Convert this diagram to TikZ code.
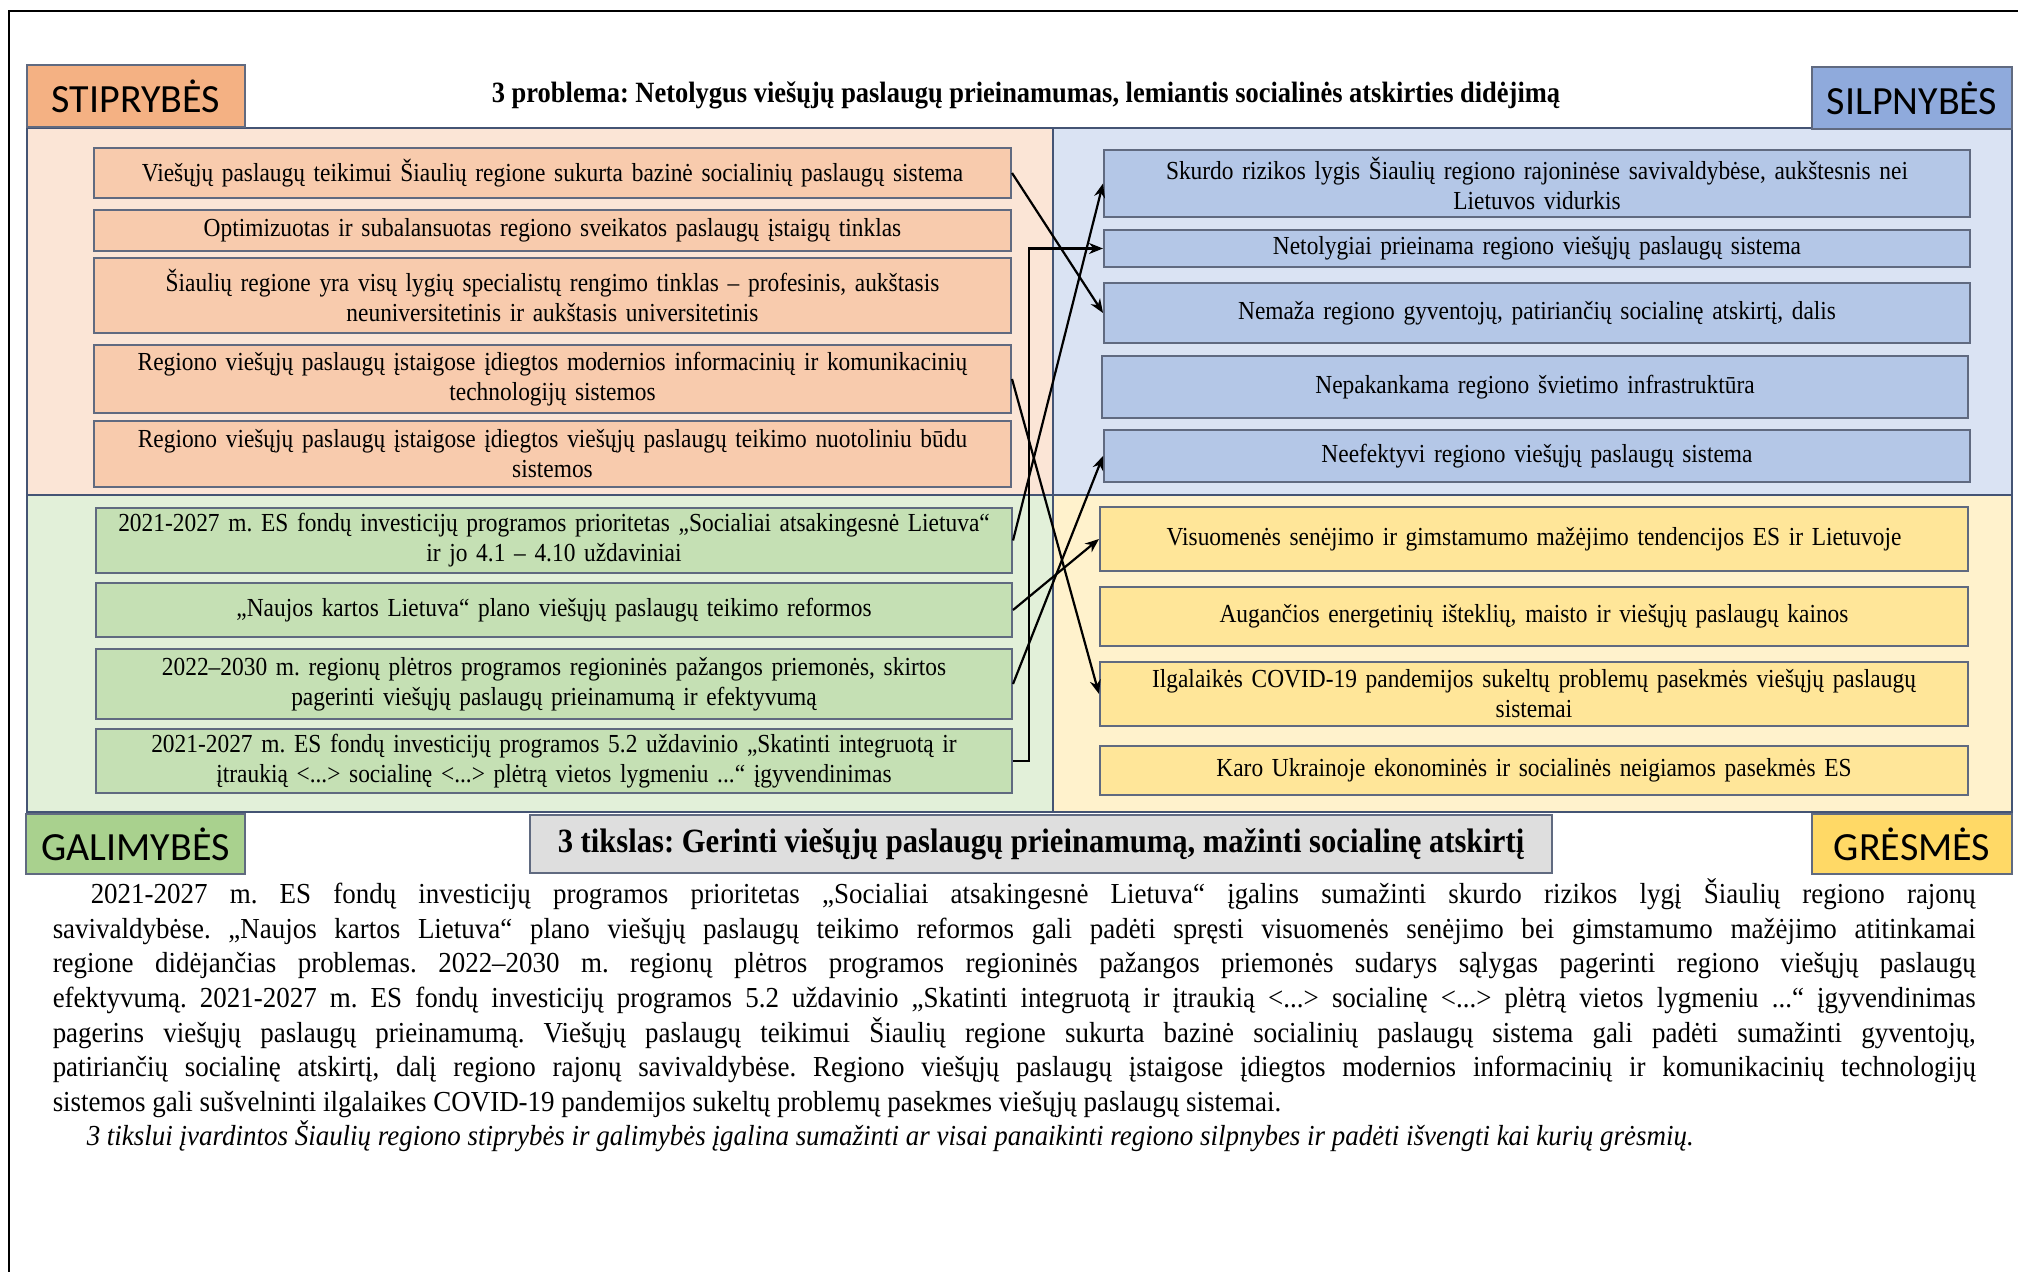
\documentclass[tikz,border=0pt]{standalone}
\usepackage{fontspec}
\setmainfont{Liberation Serif}
\newfontfamily\boxfont[FakeStretch=0.9]{Liberation Serif}
\newfontfamily\bodyfont[FakeStretch=0.93]{Liberation Serif}
\newfontfamily\labelfont{Carlito}
\usetikzlibrary{arrows.meta}

\tikzset{every picture/.style={line width=0.75pt}}
\tikzset{
  boxline/.style={draw={rgb, 255:red, 96; green, 106; blue, 128 }, line width=1pt},
  panel/.style={draw={rgb, 255:red, 68; green, 84; blue, 116 }, line width=1pt},
  itembox/.style={boxline, inner sep=0pt, align=center, font=\boxfont\fontsize{13}{15}\selectfont},
  sbox/.style={itembox, fill={rgb, 255:red, 248; green, 203; blue, 173 }, minimum width=458.5pt, text width=450pt},
  obox/.style={itembox, fill={rgb, 255:red, 197; green, 224; blue, 180 }, minimum width=458pt, text width=450pt},
  wbox/.style={itembox, fill={rgb, 255:red, 180; green, 199; blue, 231 }, minimum width=433pt, text width=425pt},
  tbox/.style={itembox, fill={rgb, 255:red, 255; green, 230; blue, 153 }, minimum width=434pt, text width=425pt},
  swotlabel/.style={boxline, inner sep=0pt, minimum height=31pt, font=\labelfont\fontsize{20}{24}\selectfont},
  arr/.style={-{Stealth[length=7pt,width=5.5pt]}, line width=1.1pt}
}

\begin{document}
\frenchspacing
\begin{tikzpicture}[x=0.5pt,y=0.5pt,yscale=-1]
\useasboundingbox (0,0) rectangle (2018,1272);
\draw [line width=1pt] (9,1272) -- (9,11) -- (2018,11) ;

% quadrants
\draw [panel, fill={rgb, 255:red, 251; green, 229; blue, 214 }] (27,128) rectangle (1053,495) ;
\draw [panel, fill={rgb, 255:red, 218; green, 227; blue, 243 }] (1053,128) rectangle (2012,495) ;
\draw [panel, fill={rgb, 255:red, 226; green, 240; blue, 217 }] (27,495) rectangle (1053,812) ;
\draw [panel, fill={rgb, 255:red, 255; green, 242; blue, 204 }] (1053,495) rectangle (2012,812) ;

% corner labels
\draw (136,96.5) node [swotlabel, fill={rgb, 255:red, 244; green, 177; blue, 131 }, minimum width=109pt] (lS) {STIPRYBĖS};
\draw (1912,98) node [swotlabel, fill={rgb, 255:red, 143; green, 170; blue, 220 }, minimum width=100pt] (lW) {SILPNYBĖS};
\draw (135.5,844) node [swotlabel, fill={rgb, 255:red, 169; green, 209; blue, 142 }, minimum width=109.5pt, minimum height=30pt] (lO) {GALIMYBĖS};
\draw (1912,844) node [swotlabel, fill={rgb, 255:red, 255; green, 217; blue, 102 }, minimum width=100pt, minimum height=30pt] (lT) {GRĖSMĖS};

\draw (1026,95) node [font=\boxfont\bfseries\fontsize{14.7}{17}\selectfont] (problem) {3 problema: Netolygus viešųjų paslaugų prieinamumas, lemiantis socialinės atskirties didėjimą};
\draw (1041,844) node [boxline, fill={rgb, 255:red, 222; green, 222; blue, 222 }, minimum width=511pt, minimum height=29pt, inner sep=0pt, font=\boxfont\bfseries\fontsize{17}{20}\selectfont] (goal) {3 tikslas: Gerinti viešųjų paslaugų prieinamumą, mažinti socialinę atskirtį};

% strengths
\draw (552.5,173) node [sbox, minimum height=25pt] (s1) {Viešųjų paslaugų teikimui Šiaulių regione sukurta bazinė socialinių paslaugų sistema};
\draw (552.5,230.5) node [sbox, minimum height=20.5pt] (s2) {Optimizuotas ir subalansuotas regiono sveikatos paslaugų įstaigų tinklas};
\draw (552.5,295.5) node [sbox, minimum height=37.5pt] (s3) {Šiaulių regione yra visų lygių specialistų rengimo tinklas – profesinis, aukštasis\\ neuniversitetinis ir aukštasis universitetinis};
\draw (552.5,379) node [sbox, minimum height=34pt] (s4) {Regiono viešųjų paslaugų įstaigose įdiegtos modernios informacinių ir komunikacinių\\ technologijų sistemos};
\draw (552.5,454) node [sbox, minimum height=33pt] (s5) {Regiono viešųjų paslaugų įstaigose įdiegtos viešųjų paslaugų teikimo nuotoliniu būdu\\ sistemos};

% opportunities
\draw (554,540.5) node [obox, minimum height=32.5pt] (o1) {2021-2027 m. ES fondų investicijų programos prioritetas „Socialiai atsakingesnė Lietuva“\\ ir jo 4.1 – 4.10 uždaviniai};
\draw (554,610) node [obox, minimum height=27pt] (o2) {„Naujos kartos Lietuva“ plano viešųjų paslaugų teikimo reformos};
\draw (554,684) node [obox, minimum height=35pt] (o3) {2022–2030 m. regionų plėtros programos regioninės pažangos priemonės, skirtos\\ pagerinti viešųjų paslaugų prieinamumą ir efektyvumą};
\draw (554,761) node [obox, minimum height=32pt] (o4) {2021-2027 m. ES fondų investicijų programos 5.2 uždavinio „Skatinti integruotą ir\\ įtraukią <...> socialinę <...> plėtrą vietos lygmeniu ...“ įgyvendinimas};

% weaknesses
\draw (1537,183.5) node [wbox, minimum height=33.5pt] (w1) {Skurdo rizikos lygis Šiaulių regiono rajoninėse savivaldybėse, aukštesnis nei\\ Lietuvos vidurkis};
\draw (1537,248.5) node [wbox, minimum height=18.5pt] (w2) {Netolygiai prieinama regiono viešųjų paslaugų sistema};
\draw (1537,313) node [wbox, minimum height=30pt] (w3) {Nemaža regiono gyventojų, patiriančių socialinę atskirtį, dalis};
\draw (1535,387) node [wbox, minimum height=31pt] (w4) {Nepakankama regiono švietimo infrastruktūra};
\draw (1537,456) node [wbox, minimum height=26pt] (w5) {Neefektyvi regiono viešųjų paslaugų sistema};

% threats
\draw (1534,539) node [tbox, minimum height=32pt] (t1) {Visuomenės senėjimo ir gimstamumo mažėjimo tendencijos ES ir Lietuvoje};
\draw (1534,616.5) node [tbox, minimum height=29.5pt] (t2) {Augančios energetinių išteklių, maisto ir viešųjų paslaugų kainos};
\draw (1534,694) node [tbox, minimum height=32pt] (t3) {Ilgalaikės COVID-19 pandemijos sukeltų problemų pasekmės viešųjų paslaugų\\ sistemai};
\draw (1534,770.5) node [tbox, minimum height=24.5pt] (t4) {Karo Ukrainoje ekonominės ir socialinės neigiamos pasekmės ES};

% links
\draw [arr] (s1.east) -- (w3.west) ;
\draw [arr] (o4.east) -- ++(8pt,0) |- (w2.west) ;
\draw [arr] (o1.east) -- (w1.west) ;
\draw [arr] (s4.east) -- (t3.west) ;
\draw [arr] (o3.east) -- (w5.west) ;
\draw [arr] (o2.east) -- (t1.west) ;

% text under the figure
\draw (52,878) node [anchor=north west, inner sep=0pt] (body) {\parbox{961.5pt}{\bodyfont\fontsize{14.5}{17.3}\selectfont
\hspace*{19pt}2021-2027 m. ES fondų investicijų programos prioritetas „Socialiai atsakingesnė Lietuva“ įgalins sumažinti skurdo rizikos lygį Šiaulių regiono rajonų\linebreak
savivaldybėse. „Naujos kartos Lietuva“ plano viešųjų paslaugų teikimo reformos gali padėti spręsti visuomenės senėjimo bei gimstamumo mažėjimo atitinkamai\linebreak
regione didėjančias problemas. 2022–2030 m. regionų plėtros programos regioninės pažangos priemonės sudarys sąlygas pagerinti regiono viešųjų paslaugų\linebreak
efektyvumą. 2021-2027 m. ES fondų investicijų programos 5.2 uždavinio „Skatinti integruotą ir įtraukią <...> socialinę <...> plėtrą vietos lygmeniu ...“ įgyvendinimas\linebreak
pagerins viešųjų paslaugų prieinamumą. Viešųjų paslaugų teikimui Šiaulių regione sukurta bazinė socialinių paslaugų sistema gali padėti sumažinti gyventojų,\linebreak
patiriančių socialinę atskirtį, dalį regiono rajonų savivaldybėse. Regiono viešųjų paslaugų įstaigose įdiegtos modernios informacinių ir komunikacinių technologijų\linebreak
sistemos gali sušvelninti ilgalaikes COVID-19 pandemijos sukeltų problemų pasekmes viešųjų paslaugų sistemai.\par
\hspace*{17pt}\textit{3 tikslui įvardintos Šiaulių regiono stiprybės ir galimybės įgalina sumažinti ar visai panaikinti regiono silpnybes ir padėti išvengti kai kurių grėsmių.}}};
\end{tikzpicture}
\end{document}
